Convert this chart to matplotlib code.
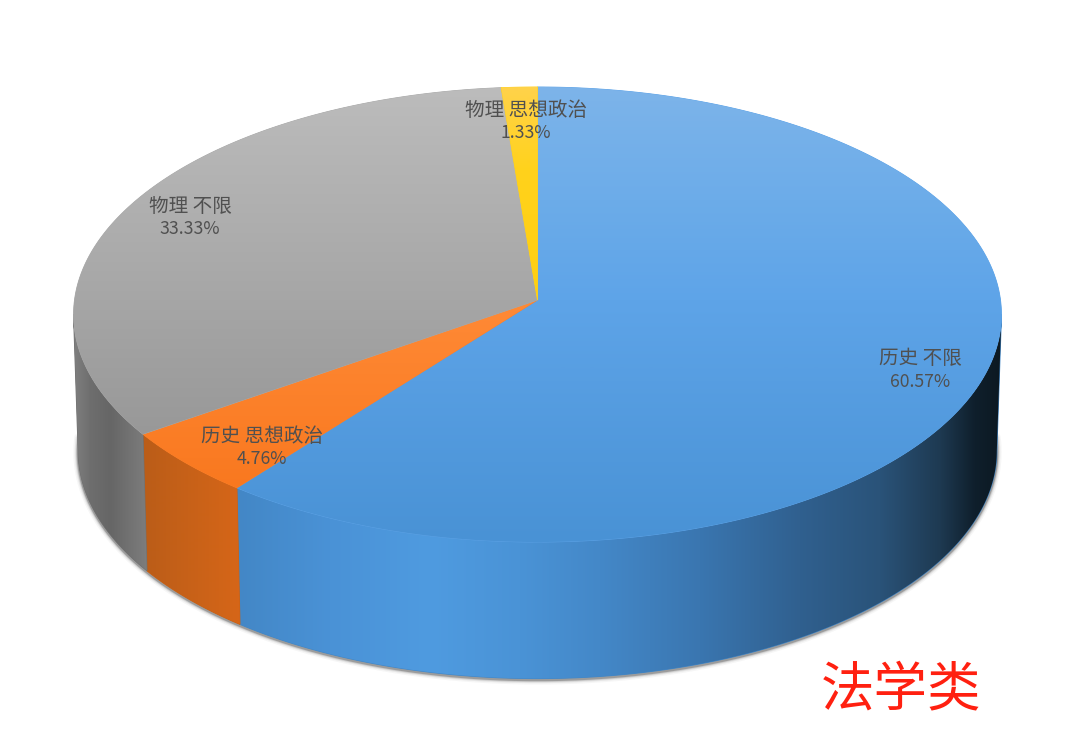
import matplotlib
matplotlib.use('Agg')
import matplotlib.pyplot as plt
from matplotlib.patches import Polygon
import numpy as np

plt.rcParams['font.family'] = ['Noto Sans CJK SC', 'DejaVu Sans']

# shares of the 法学类 group, clockwise from 12 o'clock
subjects = ['历史', '历史', '物理', '物理']
requirements = ['不限', '思想政治', '不限', '思想政治']
shares = [60.57, 4.76, 33.33, 1.33]
chart_title = '法学类'

# top face shading: pixel y -> colour stops
top_stops = [
    ([87, 200, 300, 543], ['#7db4ea', '#6cace9', '#5ea4e8', '#4992d5']),
    ([300, 490], ['#ff8a36', '#f9781f']),
    ([87, 436], ['#bcbcbc', '#989898']),
    ([87, 170, 300], ['#ffd24a', '#ffd21c', '#ffcf10']),
]
top_under = ['#5ea4e8', '#fc8029', '#aaaaaa', '#ffd21c']

# side shading: pixel x -> colour stops
side_stops = [
    ([238, 330, 430, 520, 600, 700, 800, 880, 940, 975, 1005],
     ['#4387c6', '#4a92d6', '#4f9be0', '#4a93d6', '#4488c8', '#3a76b0',
      '#30608f', '#2a5379', '#1e3a52', '#0f1f2c', '#0c1820']),
    ([145, 240], ['#bb5d18', '#d66618']),
    ([73, 90, 110, 145], ['#808080', '#6e6e6e', '#666666', '#7c7c7c']),
    ([0, 1080], ['#ffc000', '#ffc000']),
]
side_under = ['#4387c6', '#c96216', '#707070', '#ffc000']

# label first-line centres in pixels
label_pos = [(920, 359), (262, 436), (190, 206), (526, 110)]
pct_gap = 23

cx, cy = 537.5, 300.0
k, rx, ry = 0.0637, 463.0, 226.6
depth = 136.5
bottom_scale = 0.99


def top_edge(theta):
    # perspective view of the pie circle, theta clockwise from back
    x, y = np.sin(theta), np.cos(theta)
    w = 1 + k * y
    return cx + rx * x / w, cy - ry * y / w


def bottom_edge(theta):
    x, y = top_edge(theta)
    return cx + (x - cx) * bottom_scale, y + depth


def shade(stops, grid):
    pos, colors = stops
    rgb = np.array([matplotlib.colors.to_rgb(c) for c in colors])
    return np.stack([np.interp(grid, pos, rgb[:, c]) for c in range(3)], axis=-1)


fig = plt.figure(figsize=(10.8, 7.4), dpi=100)
ax = fig.add_axes([0, 0, 1, 1])
ax.axis('off')

edges = np.cumsum([0] + shares) / sum(shares) * 2 * np.pi

# soft shadow under the drum
front = np.linspace(np.pi * 0.5, np.pi * 1.5, 300)
sx, sy = bottom_edge(front)
for lw, alpha in [(7, 0.04), (5, 0.08), (3.5, 0.14), (2.2, 0.3)]:
    ax.plot(sx, sy + 1.2, color='#303030', lw=lw, alpha=alpha,
            solid_capstyle='round', zorder=1)

# side wall, shading runs along x
xs = np.arange(0, 1081)
for i in range(len(shares)):
    start = max(edges[i], np.pi * 0.5 + k)
    end = min(edges[i + 1], np.pi * 1.5 - k)
    if end <= start:
        continue
    ts = np.linspace(start, end, 300)
    tx, ty = top_edge(ts)
    bx, by = bottom_edge(ts[::-1])
    pts = np.column_stack([np.r_[tx, bx], np.r_[ty, by]])
    # flat fill underneath closes the seams between slices
    ax.add_patch(Polygon(pts, closed=True, facecolor=side_under[i],
                         edgecolor=side_under[i], lw=0.8, zorder=2))
    poly = Polygon(pts, closed=True, facecolor='none', edgecolor='none', zorder=2)
    ax.add_patch(poly)
    im = ax.imshow(shade(side_stops[i], xs)[None, :, :], extent=(0, 1080, 740, 0),
                   aspect='auto', zorder=2, interpolation='bilinear')
    im.set_clip_path(poly)

# top face, one gradient per slice
ys = np.arange(0, 741)
for i in range(len(shares)):
    ts = np.linspace(edges[i], edges[i + 1], 300)
    ex, ey = top_edge(ts)
    pts = np.column_stack([np.r_[cx, ex], np.r_[cy, ey]])
    ax.add_patch(Polygon(pts, closed=True, facecolor=top_under[i],
                         edgecolor=top_under[i], lw=0.6, zorder=3))
    poly = Polygon(pts, closed=True, facecolor='none', edgecolor='none', zorder=3)
    ax.add_patch(poly)
    im = ax.imshow(shade(top_stops[i], ys)[:, None, :], extent=(0, 1080, 740, 0),
                   aspect='auto', zorder=3, interpolation='bilinear')
    im.set_clip_path(poly)

ax.set_xlim(0, 1080)
ax.set_ylim(740, 0)

for i in range(len(shares)):
    ax.text(label_pos[i][0], label_pos[i][1], f'{subjects[i]} {requirements[i]}',
            fontsize=14.1, color='#505050', ha='center', va='center', zorder=5)
    ax.text(label_pos[i][0], label_pos[i][1] + pct_gap, f'{shares[i]:.2f}%',
            fontsize=12.7, color='#505050', ha='center', va='center', zorder=5)

ax.text(901, 690, chart_title, fontsize=38.5, color='#ff2010',
        ha='center', va='center', zorder=5)

fig.savefig('out.png', dpi=100, facecolor='white')
